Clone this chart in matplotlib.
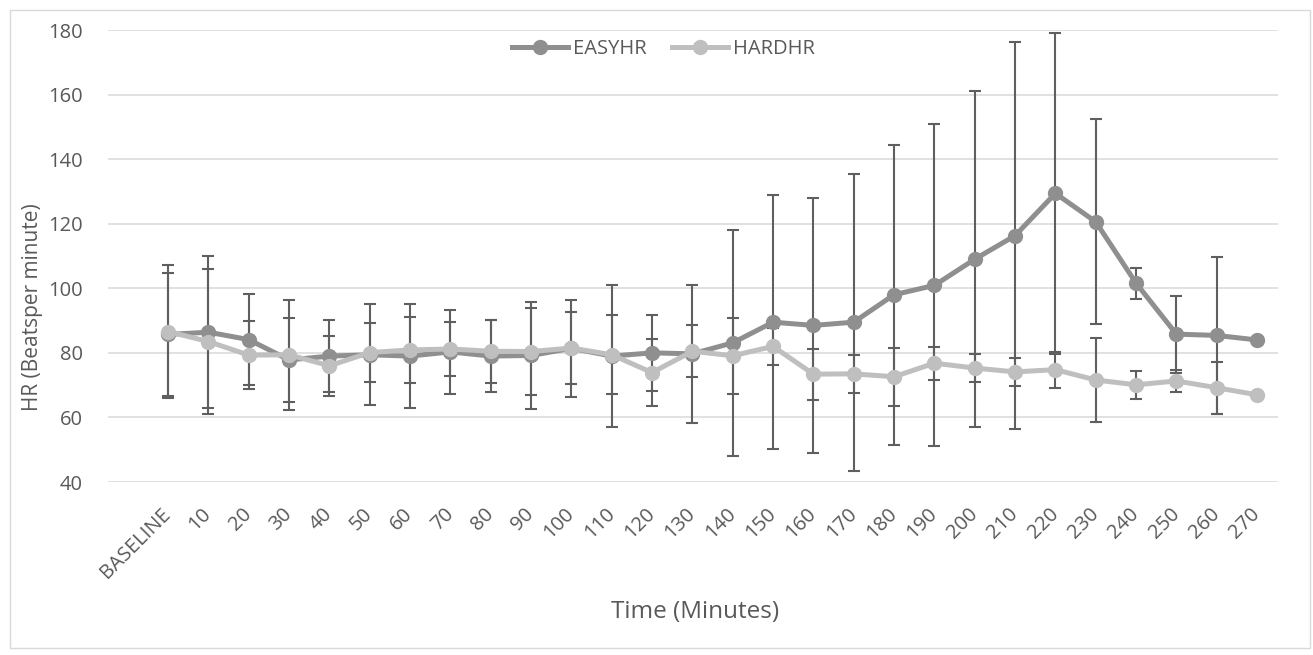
import matplotlib
matplotlib.use('Agg')
import matplotlib.pyplot as plt
import numpy as np
from matplotlib.patches import Rectangle

categories = ['BASELINE', '10', '20', '30', '40', '50', '60', '70', '80', '90',
              '100', '110', '120', '130', '140', '150', '160', '170', '180', '190',
              '200', '210', '220', '230', '240', '250', '260', '270']

easy_hr = [85.7, 86.4, 84.1, 77.8, 79.0, 79.4, 79.0, 80.3, 79.0, 79.2,
           81.4, 79.0, 80.0, 79.7, 83.1, 89.5, 88.5, 89.5, 98.0, 100.9,
           109.0, 116.3, 129.4, 120.6, 101.6, 85.8, 85.4, 84.0]
easy_err = [19.1, 23.6, 14.1, 12.9, 11.1, 15.7, 16.0, 12.9, 11.2, 16.6,
            15.0, 21.9, 11.8, 21.4, 34.9, 39.3, 39.5, 46.0, 46.4, 49.9,
            52.0, 59.9, 49.8, 31.8, 4.8, 11.9, 24.3]

hard_hr = [86.6, 83.5, 79.3, 79.4, 76.0, 80.1, 80.9, 81.2, 80.5, 80.4,
           81.5, 79.4, 73.9, 80.5, 79.1, 82.0, 73.4, 73.5, 72.6, 76.8,
           75.3, 74.1, 74.8, 71.6, 70.1, 71.3, 69.2, 67.0]
hard_err = [20.6, 22.5, 10.6, 17.0, 9.3, 9.1, 10.1, 8.3, 9.7, 13.4,
            11.0, 12.2, 10.3, 8.0, 11.7, 5.7, 7.9, 5.9, 9.0, 5.1,
            4.3, 4.4, 5.6, 13.1, 4.4, 3.3, 8.1]

yticks = [40, 60, 80, 100, 120, 140, 160, 180]

FONT = 'Open Sans'
TXT = '#595959'
W, H = 1313, 655

fig = plt.figure(figsize=(W / 100, H / 100), dpi=100)
fig.patches.append(Rectangle((10 / W, 1 - 648 / H), 1300 / W, 638 / H,
                             transform=fig.transFigure, fill=False,
                             edgecolor='#d9d9d9', linewidth=1.0))

ax = fig.add_axes([108 / W, 1 - 482 / H, 1170 / W, 452 / H])
x = np.arange(len(categories))

ecol = '#5f5f5f'
ax.errorbar(x[:len(easy_err)], easy_hr[:len(easy_err)], yerr=easy_err, fmt='none',
            ecolor=ecol, elinewidth=1.5, capsize=4, capthick=1.5, zorder=2)
ax.errorbar(x[:len(hard_err)], hard_hr[:len(hard_err)], yerr=hard_err, fmt='none',
            ecolor=ecol, elinewidth=1.5, capsize=4, capthick=1.5, zorder=2)
ax.plot(x, easy_hr, color='#8f8f8f', lw=3.6, marker='o', ms=10, zorder=3,
        label='EASYHR')
ax.plot(x, hard_hr, color='#bfbfbf', lw=3.6, marker='o', ms=10, zorder=4,
        label='HARDHR')

ax.set_xlim(-1.49, 27.52)
ax.set_ylim(40, 180)
ax.set_yticks(yticks)
ax.grid(axis='y', color='#d9d9d9', lw=1.1, zorder=0)
ax.set_axisbelow(True)
for s in ax.spines.values():
    s.set_visible(False)
ax.tick_params(axis='y', length=0, pad=18, labelsize=14.5, labelcolor=TXT)
ax.tick_params(axis='x', length=0, pad=21, labelsize=14.5, labelcolor=TXT)
ax.set_xticks(x)
ax.set_xticklabels(categories, rotation=45, ha='right', va='center',
                   rotation_mode='anchor', family=FONT)
for lab in ax.get_yticklabels():
    lab.set_family(FONT)

fig.text(33 / W, 1 - 307 / H, 'HR (Beatsper minute)', rotation=90, ha='center',
         va='center', fontsize=15, color=TXT, family=FONT)
fig.text(695 / W, 1 - 612 / H, 'Time (Minutes)', ha='center', va='center',
         fontsize=17.5, color=TXT, family=FONT)

fig.legend(loc='center', bbox_to_anchor=(663.5 / W, 1 - 49 / H), ncol=2,
           frameon=False, handlelength=2.8, handletextpad=0.25,
           columnspacing=1.25, prop={'family': FONT, 'size': 14.5},
           labelcolor=TXT)

fig.savefig('out.png', dpi=100)
